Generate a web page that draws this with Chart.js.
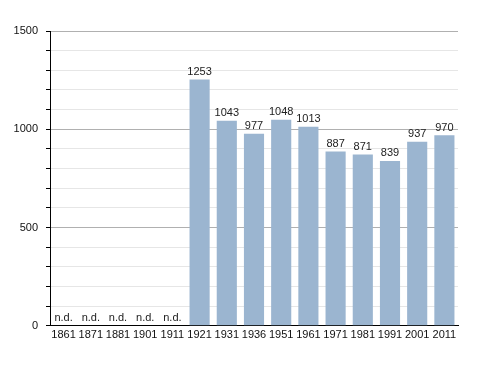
<!DOCTYPE html>
<html><head><meta charset="utf-8">
<script src="https://cdn.jsdelivr.net/npm/chart.js@4"></script>
<style>html,body{margin:0;padding:0;background:#fff}canvas{display:block}</style>
</head><body>
<canvas id="c" width="488" height="373"></canvas>
<script>
const years = ["1861","1871","1881","1901","1911","1921","1931","1936","1951","1961","1971","1981","1991","2001","2011"];
const population = [null,null,null,null,null,1253,1043,977,1048,1013,887,871,839,937,970];
const valueLabels = ["n.d.","n.d.","n.d.","n.d.","n.d.","1253","1043","977","1048","1013","887","871","839","937","970"];
const yTickLabels = [0,500,1000,1500];

const labelPlugin = {
  id: 'labels',
  afterDatasetsDraw(chart){
    const ctx = chart.ctx;
    const meta = chart.getDatasetMeta(0);
    const xs = chart.scales.x, ys = chart.scales.y;
    ctx.save();
    ctx.font = '11px "Liberation Sans", Arial, sans-serif';
    ctx.fillStyle = '#222';
    ctx.textAlign = 'center';
    ctx.textBaseline = 'bottom';
    population.forEach((v,i)=>{
      const x = xs.getPixelForValue(i);
      const y = v === null ? ys.getPixelForValue(0) - 2 : ys.getPixelForValue(v) - 2;
      ctx.fillText(valueLabels[i], x, y);
    });
    ctx.restore();
  }
};

new Chart(document.getElementById('c'), {
  type: 'bar',
  data: { labels: years, datasets: [{ data: population, backgroundColor: '#9bb5d0', borderWidth: 0, categoryPercentage: 0.74, barPercentage: 1 }] },
  options: {
    responsive: false, animation: false,
    layout: { padding: { top: 31, right: 30, left: 0, bottom: 28 } },
    plugins: { legend: { display: false }, tooltip: { enabled: false } },
    scales: {
      x: {
        grid: { display: false, drawTicks: false },
        border: { color: '#000', width: 1 },
        ticks: { color: '#111', font: { family: '"Liberation Sans", Arial, sans-serif', size: 11 }, padding: 3, maxRotation: 0, autoSkip: false }
      },
      y: {
        min: 0, max: 1500,
        afterFit(s){ s.width = 50; },
        border: { color: '#000', width: 1 },
        grid: {
          color: (c)=> (c.tick && c.tick.value % 500 === 0) ? '#b0b0b0' : '#e6e6e6',
          tickColor: '#000', tickLength: 4, drawTicks: true
        },
        ticks: {
          stepSize: 100, color: '#111', padding: 8,
          font: { family: '"Liberation Sans", Arial, sans-serif', size: 11 },
          callback: (v)=> yTickLabels.includes(v) ? String(v) : ''
        }
      }
    }
  },
  plugins: [labelPlugin]
});
</script>
</body></html>
